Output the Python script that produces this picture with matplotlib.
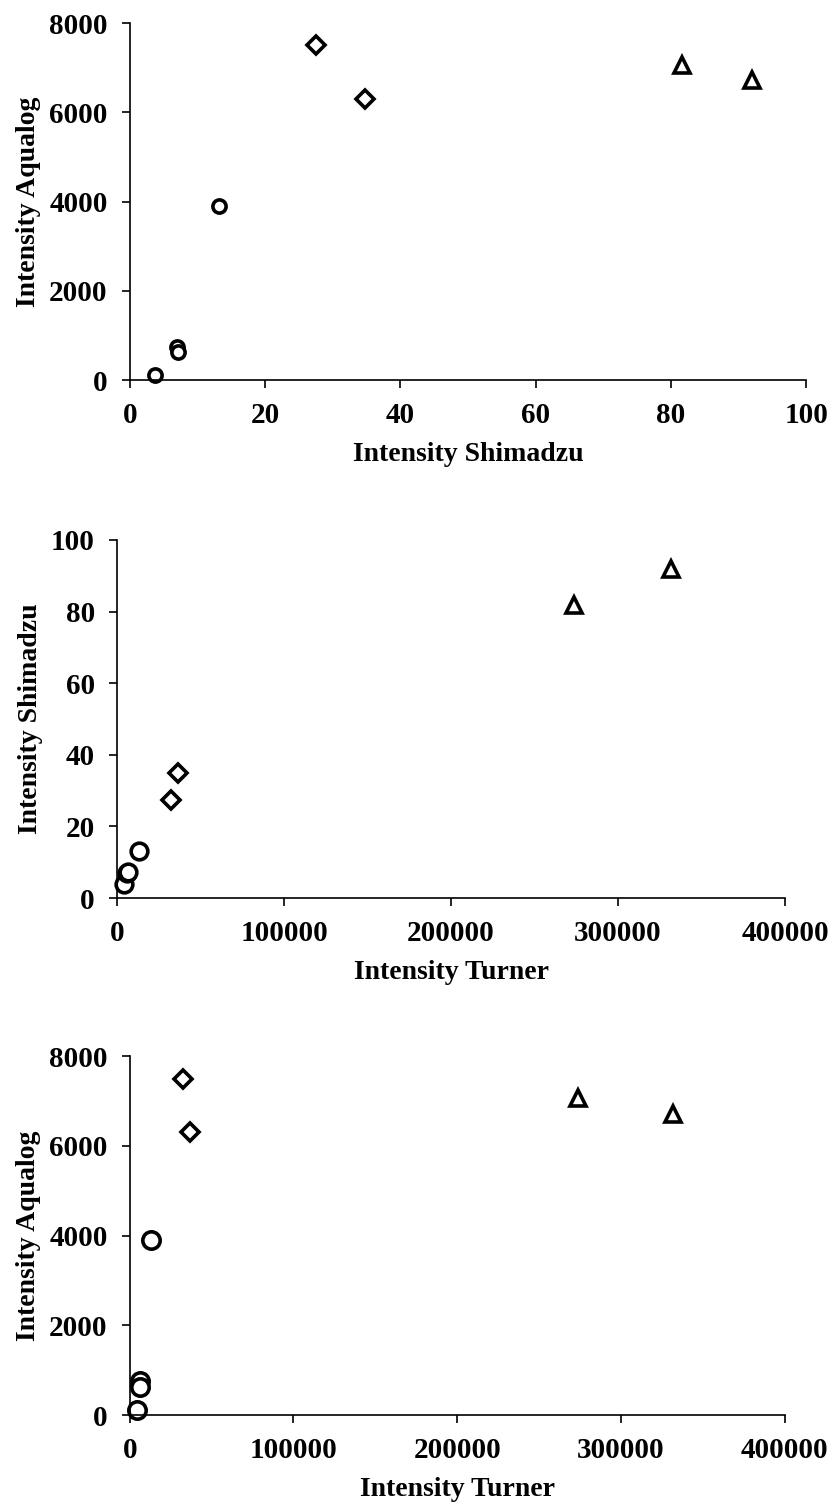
import numpy as np
import matplotlib
matplotlib.use("Agg")
from matplotlib import pyplot as plt

# values per sample group: circles, diamonds, triangles
turner_circ = [4500, 6000, 6500, 13000]
shim_circ = [3.8, 7.0, 7.2, 13.2]
aqua_circ = [110, 750, 620, 3910]

turner_diam = [32500, 36500]
shim_diam = [27.5, 34.8]
aqua_diam = [7500, 6300]

turner_tri = [273500, 332000]
shim_tri = [81.7, 92.0]
aqua_tri = [7060, 6720]

plt.rcParams['font.family'] = ['Liberation Serif', 'DejaVu Serif']
plt.rcParams['font.weight'] = 'bold'


def style_axes(ax, xlabel, ylabel, xlim, ylim, xticks, yticks):
    ax.set_xlim(*xlim)
    ax.set_ylim(*ylim)
    ax.set_xticks(xticks)
    ax.set_yticks(yticks)
    ax.spines['top'].set_visible(False)
    ax.spines['right'].set_visible(False)
    ax.spines['left'].set_linewidth(1.2)
    ax.spines['bottom'].set_linewidth(1.2)
    ax.tick_params(direction='out', length=6, width=1.2, labelsize=21, pad=10)
    for lab in ax.get_xticklabels() + ax.get_yticklabels():
        lab.set_fontweight('bold')
    ax.set_xlabel(xlabel, fontsize=20, fontweight='bold', labelpad=9)
    ax.set_ylabel(ylabel, fontsize=20, fontweight='bold', labelpad=6)


def scatter_groups(ax, xs, ys, sizes):
    marks = ['o', 'D', '^']
    for (x, y), m, s in zip(zip(xs, ys), marks, sizes):
        ax.plot(x, y, linestyle='none', marker=m, markersize=s,
                markerfacecolor='white', markeredgecolor='black',
                markeredgewidth=2.6, clip_on=False)


fig = plt.figure(figsize=(8.32, 15.07), dpi=100)

ax1 = fig.add_axes([0.156, 0.7478, 0.813, 0.2369])
scatter_groups(ax1, [shim_circ, shim_diam, shim_tri],
               [aqua_circ, aqua_diam, aqua_tri], [9.5, 9.5, 12])
style_axes(ax1, 'Intensity Shimadzu', 'Intensity Aqualog',
           (0, 100), (0, 8000), np.arange(0, 101, 20), np.arange(0, 8001, 2000))

ax2 = fig.add_axes([0.1406, 0.4041, 0.803, 0.2376])
scatter_groups(ax2, [turner_circ, turner_diam, turner_tri],
               [shim_circ, shim_diam, shim_tri], [12, 9.5, 12])
style_axes(ax2, 'Intensity Turner', 'Intensity Shimadzu',
           (0, 400000), (0, 100), np.arange(0, 400001, 100000), np.arange(0, 101, 20))

ax3 = fig.add_axes([0.156, 0.0610, 0.787, 0.2382])
scatter_groups(ax3, [turner_circ, turner_diam, turner_tri],
               [aqua_circ, aqua_diam, aqua_tri], [12.5, 9.5, 12])
style_axes(ax3, 'Intensity Turner', 'Intensity Aqualog',
           (0, 400000), (0, 8000), np.arange(0, 400001, 100000), np.arange(0, 8001, 2000))

fig.savefig('out.png', dpi=100)
